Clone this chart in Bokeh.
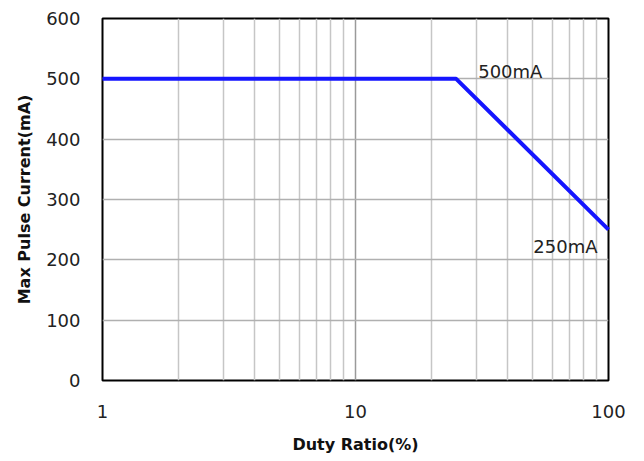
from bokeh.plotting import figure
from bokeh.models import FixedTicker
from bokeh.embed import file_html
from bokeh.resources import INLINE

# Data
duty_ratio = [1, 25, 100]          # %
max_current = [500, 500, 250]      # mA
x_major_ticks = [1, 10, 100]
x_minor_ticks = [2, 3, 4, 5, 6, 7, 8, 9, 20, 30, 40, 50, 60, 70, 80, 90]
y_ticks = [0, 100, 200, 300, 400, 500, 600]
ann_x = [25, 100]
ann_y = [500, 250]
ann_text = ["500mA", "250mA"]

FONT = "DejaVu Sans"

p = figure(width=644, height=461, x_axis_type="log",
           x_range=(1, 100), y_range=(0, 600),
           output_backend="svg", toolbar_location=None,
           min_border_left=102, min_border_right=36,
           min_border_top=18, min_border_bottom=81)

p.background_fill_color = "white"
p.border_fill_color = "white"
p.outline_line_color = "black"
p.outline_line_width = 2

# Axes
p.xaxis.ticker = FixedTicker(ticks=x_major_ticks, minor_ticks=x_minor_ticks)
p.yaxis.ticker = FixedTicker(ticks=y_ticks)
p.xaxis.major_label_overrides = {1: "1", 10: "10", 100: "100"}
for ax in (p.xaxis[0], p.yaxis[0]):
    ax.axis_line_color = None
    ax.major_tick_line_color = None
    ax.minor_tick_line_color = None
    ax.major_label_text_font = FONT
    ax.major_label_text_font_size = "18px"
    ax.major_label_text_color = "#222222"
    ax.axis_label_text_font = FONT
    ax.axis_label_text_font_style = "bold"
    ax.axis_label_text_font_size = "16px"
    ax.axis_label_text_color = "#111111"
p.xaxis.major_label_standoff = 18
p.yaxis.major_label_standoff = 16
p.xaxis.axis_label = "Duty Ratio(%)"
p.yaxis.axis_label = "Max Pulse Current(mA)"
p.xaxis.axis_label_standoff = 14
p.yaxis.axis_label_standoff = 9

# Grid
p.xgrid.grid_line_color = "#9a9a9a"
p.xgrid.grid_line_width = 1.5
p.xgrid.minor_grid_line_color = "#c6c6c6"
p.xgrid.minor_grid_line_width = 1.5
p.ygrid.grid_line_color = "#b0b0b0"
p.ygrid.grid_line_width = 1.5

# Curve
r = p.line(duty_ratio, max_current, line_color="#1515ff", line_width=4)
r.level = "overlay"

# Annotations
t1 = p.text(x=[ann_x[0]], y=[ann_y[0]], text=[ann_text[0]], x_offset=22, y_offset=-7,
            text_font_size="18px", text_color="#222222", text_baseline="alphabetic",
            text_align="left", text_font={"value": FONT})
t2 = p.text(x=[ann_x[1]], y=[ann_y[1]], text=[ann_text[1]], x_offset=-11, y_offset=17,
            text_font_size="18px", text_color="#222222", text_baseline="alphabetic",
            text_align="right", text_font={"value": FONT})
t1.level = "overlay"
t2.level = "overlay"

open("out.html", "w").write(file_html(p, INLINE))
